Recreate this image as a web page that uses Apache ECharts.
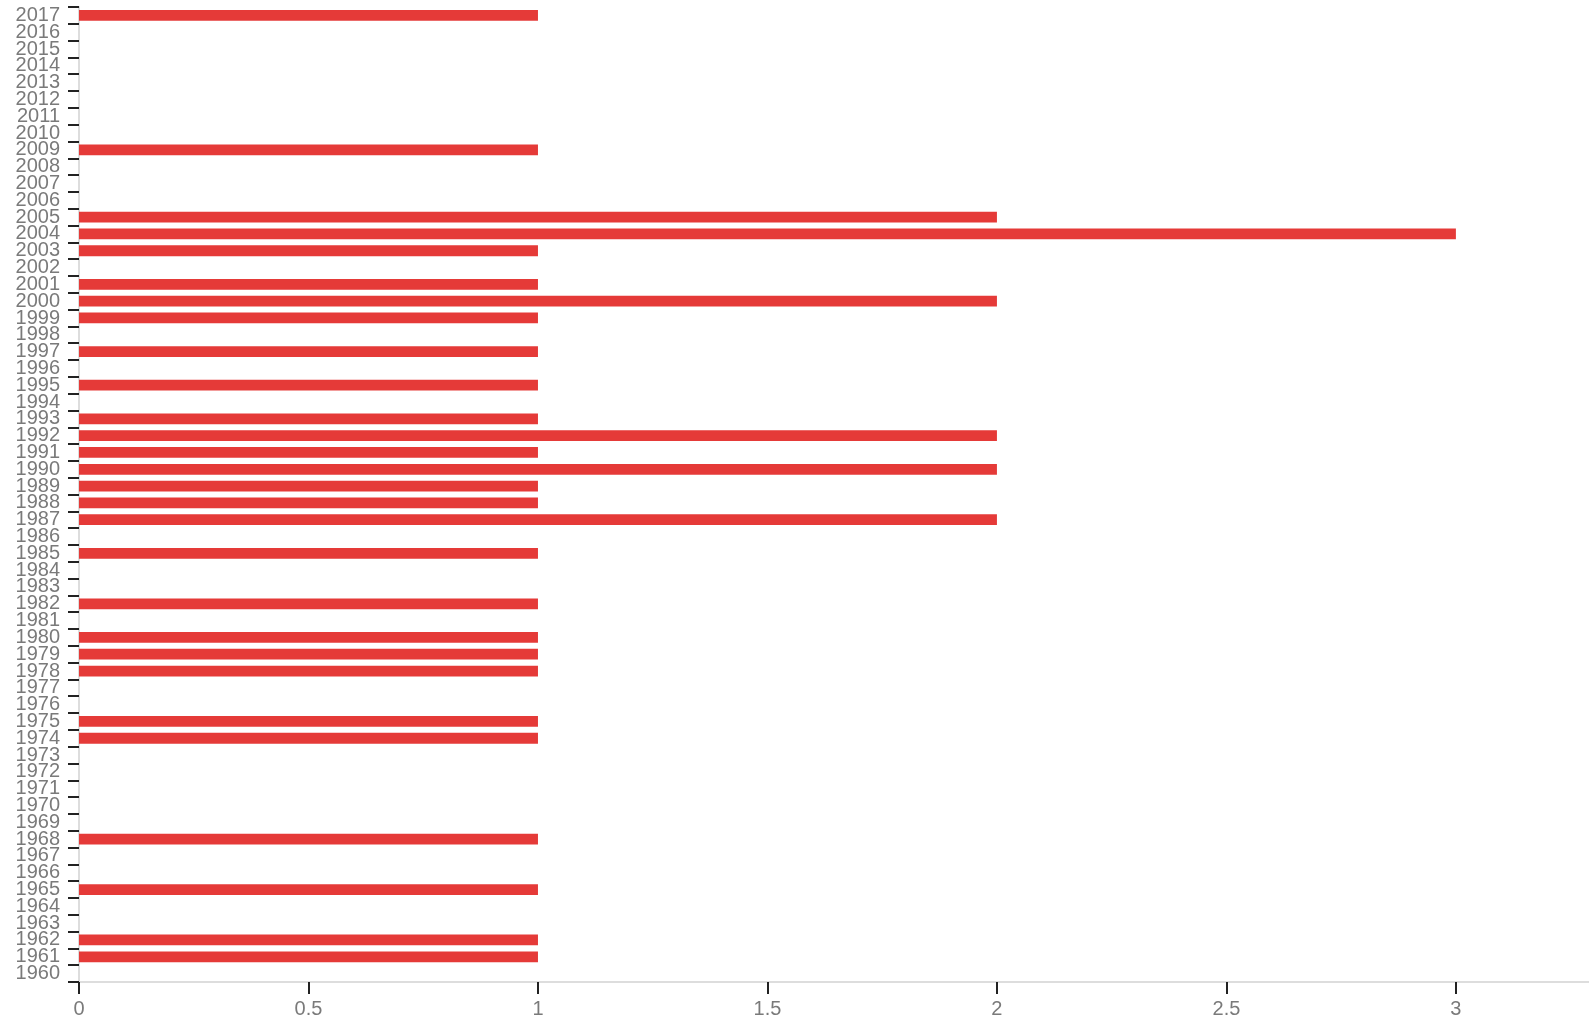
<!DOCTYPE html>
<html>
<head>
<meta charset="utf-8">
<script src="https://cdn.jsdelivr.net/npm/echarts@6/dist/echarts.min.js"></script>
<style>
html,body{margin:0;padding:0;background:#fff;}
#chart{width:1589px;height:1022px;}
</style>
</head>
<body>
<div id="chart"></div>
<script>
var years = [];
for (var y = 1960; y <= 2017; y++) years.push(String(y));
var counts = [
  0, 1, 1, 0, 0, 1, 0, 0, 1, 0,   // 1960-1969
  0, 0, 0, 0, 1, 1, 0, 0, 1, 1,   // 1970-1979
  1, 0, 1, 0, 0, 1, 0, 2, 1, 1,   // 1980-1989
  2, 1, 2, 1, 0, 1, 0, 1, 0, 1,   // 1990-1999
  2, 1, 0, 1, 3, 2, 0, 0, 0, 1,   // 2000-2009
  0, 0, 0, 0, 0, 0, 0, 1          // 2010-2017
];
var xTicks = [0, 0.5, 1, 1.5, 2, 2.5, 3];

var chart = echarts.init(document.getElementById('chart'));
var labelFont = {color: '#7a7a7a', fontSize: 20, fontFamily: 'Liberation Sans, Arial, sans-serif'};
chart.setOption({
  animation: false,
  grid: {left: 79, right: 0, top: 7, bottom: 40, containLabel: false},
  xAxis: {
    type: 'value',
    min: 0,
    max: 3.29,
    interval: 0.5,
    splitLine: {show: false},
    axisLine: {show: true, lineStyle: {color: '#ddd', width: 2}},
    axisTick: {show: true, length: 12, lineStyle: {color: '#222', width: 2}},
    axisLabel: Object.assign({margin: 17, showMaxLabel: false}, labelFont)
  },
  yAxis: {
    type: 'category',
    data: years,
    axisLine: {show: true, lineStyle: {color: '#ddd', width: 2}},
    axisTick: {show: true, length: 11, alignWithLabel: false, interval: 0, lineStyle: {color: '#222', width: 2}},
    axisLabel: Object.assign({margin: 19, interval: 0}, labelFont),
    splitLine: {show: false}
  },
  series: [{
    type: 'bar',
    data: counts,
    barCategoryGap: '36%',
    itemStyle: {color: '#e53a38'}
  }]
});
</script>
</body>
</html>
